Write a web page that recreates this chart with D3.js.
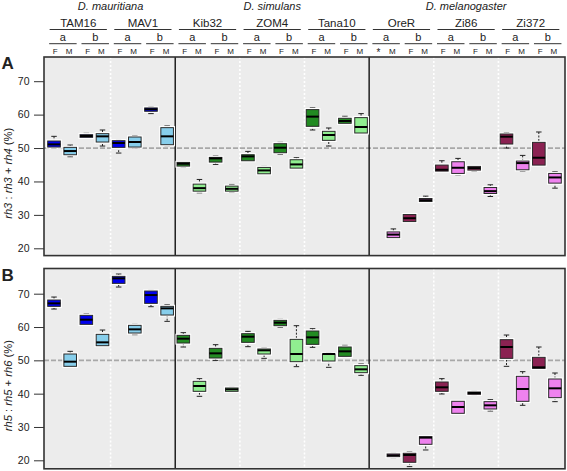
<!DOCTYPE html>
<html>
<head>
<meta charset="utf-8">
<script src="https://cdn.jsdelivr.net/npm/d3@7"></script>
<style>
  body { margin: 0; background: #fff; }
  text { font-family: "Liberation Sans", Arial, sans-serif; fill: #222; }
</style>
</head>
<body>
<script>
// groups
const species = ["D. mauritiana", "D. simulans", "D. melanogaster"];
const speciesStrains = [2, 3, 3];
const strains = ["TAM16", "MAV1", "Kib32", "ZOM4", "Tana10", "OreR", "Zi86", "Zi372"];
const lines = ["a", "b"];
const sexLabels = ["F", "M", "F", "M", "F", "M", "F", "M", "F", "M", "F", "M", "F", "M", "F", "M",
                   "F", "M", "F", "M", "*", "M", "F", "M", "F", "M", "F", "M", "F", "M", "F", "M"];
const colF = ["#0000ee", "#228b22", "#8b2252"];
const colM = ["#87ceeb", "#90ee90", "#ee82ee"];

// panel A: rh3 : rh3 + rh4 (%)  -> [low, q1, median, q3, high]
const statsA = [
  [50.0, 50.3, 51.1, 52.1, 53.5], [47.4, 48.0, 49.1, 50.2, 50.9],
  [53.2, 53.2, 53.6, 54.0, 54.4], [50.6, 51.8, 53.5, 54.3, 55.4],
  [48.5, 50.2, 51.5, 52.2, 52.5], [50.0, 50.3, 51.8, 53.3, 53.7],
  [60.3, 61.0, 61.6, 62.0, 62.3], [50.7, 51.0, 53.5, 56.1, 56.6],
  [44.3, 44.6, 45.3, 45.7, 45.9], [36.6, 37.1, 38.0, 39.2, 40.6],
  [45.1, 45.8, 46.9, 47.2, 47.6], [36.7, 37.1, 37.8, 38.6, 39.1],
  [46.2, 46.2, 47.5, 48.0, 49.0], [42.1, 42.3, 43.3, 44.2, 44.5],
  [48.1, 48.6, 50.1, 51.3, 51.7], [44.0, 44.0, 45.1, 46.5, 47.1],
  [55.4, 56.5, 59.4, 61.5, 62.0], [50.6, 52.3, 53.9, 55.0, 56.0],
  [57.4, 57.4, 58.1, 58.9, 59.5], [54.5, 54.5, 56.3, 59.1, 60.3],
  null,                           [23.1, 23.2, 24.1, 24.9, 25.8],
  [27.8, 28.0, 29.0, 30.1, 30.4], [33.7, 34.0, 34.4, 34.9, 35.6],
  [43.0, 43.1, 43.5, 44.9, 46.2], [42.0, 42.4, 44.1, 45.9, 46.9],
  [43.0, 43.4, 44.0, 44.5, 44.7], [35.5, 36.4, 37.1, 38.2, 39.0],
  [50.0, 51.2, 53.4, 54.2, 54.6], [43.1, 43.5, 45.5, 46.1, 47.8],
  [44.9, 44.9, 47.1, 51.7, 54.8], [38.0, 39.5, 41.2, 42.4, 42.9]
];

// panel B: rh5 : rh5 + rh6 (%)
const statsB = [
  [65.4, 66.2, 67.1, 68.1, 69.0], [48.2, 48.2, 49.6, 51.9, 52.7],
  [60.8, 60.8, 62.2, 63.5, 63.9], [54.2, 54.4, 55.4, 57.8, 59.1],
  [72.0, 73.1, 74.6, 75.2, 75.9], [57.7, 58.2, 59.3, 60.5, 60.8],
  [66.1, 67.1, 69.6, 70.8, 71.0], [61.7, 63.6, 65.6, 66.2, 66.7],
  [54.0, 55.2, 56.5, 57.5, 58.3], [39.2, 40.7, 42.3, 43.7, 44.5],
  [50.0, 50.7, 52.1, 53.6, 54.7], [40.6, 40.7, 41.3, 41.7, 41.9],
  [54.1, 55.4, 57.1, 58.0, 58.7], [50.6, 51.9, 53.0, 53.4, 53.7],
  [59.9, 60.4, 61.3, 62.0, 62.3], [48.1, 49.6, 51.9, 56.3, 60.4],
  [53.9, 54.8, 56.9, 58.8, 59.5], [47.9, 49.8, 51.9, 51.9, 52.1],
  [51.0, 51.2, 52.7, 54.0, 54.5], [45.5, 46.3, 47.3, 48.4, 48.9],
  null,                           [20.8, 21.1, 21.5, 21.9, 22.1],
  [18.1, 19.4, 21.6, 22.1, 22.5], [23.1, 24.8, 26.8, 27.1, 27.3],
  [39.9, 40.7, 41.9, 43.5, 44.5], [34.0, 34.1, 36.0, 37.7, 37.8],
  [39.5, 39.8, 40.2, 40.5, 40.7], [34.8, 35.4, 36.5, 37.6, 38.2],
  [48.2, 50.6, 54.0, 56.2, 57.6], [36.5, 37.7, 41.4, 45.2, 46.6],
  [47.6, 47.6, 47.9, 50.9, 54.0], [37.6, 38.8, 41.6, 44.4, 46.2]
];
const yTicks = [20, 30, 40, 50, 60, 70];

const width = 567, height = 471;
const left = 44, right = 565;

const svg = d3.select("body").append("svg")
    .attr("width", width)
    .attr("height", height);

const x = d3.scaleLinear()
    .domain([0.38, 32.62])
    .range([left, right]);

// species index for each box position
const boxSpecies = [];
speciesStrains.forEach((n, s) => { for (let i = 0; i < n * 4; i++) boxSpecies.push(s); });

// ---- header ----
let pos = 1;
species.forEach((sp, s) => {
    const first = pos, last = pos + speciesStrains[s] * 4 - 1;
    svg.append("text")
        .attr("x", x((first + last) / 2))
        .attr("y", 9.5)
        .attr("text-anchor", "middle")
        .attr("font-size", "11px")
        .attr("font-style", "italic")
        .text(sp);
    pos = last + 1;
});

strains.forEach((st, k) => {
    const p = k * 4 + 1;
    svg.append("line")
        .attr("x1", x(p - 0.27)).attr("x2", x(p + 3.27))
        .attr("y1", 29.5).attr("y2", 29.5)
        .attr("stroke", "#333").attr("stroke-width", 1);
    svg.append("text")
        .attr("x", x(p + 1.5))
        .attr("y", 26.7)
        .attr("text-anchor", "middle")
        .attr("font-size", "11.5px")
        .text(st);
    lines.forEach((ln, j) => {
        const q = p + j * 2;
        svg.append("line")
            .attr("x1", x(q - 0.3)).attr("x2", x(q + 1.4))
            .attr("y1", 43.7).attr("y2", 43.7)
            .attr("stroke", "#333").attr("stroke-width", 1);
        svg.append("text")
            .attr("x", x(q + 0.55))
            .attr("y", 41.3)
            .attr("text-anchor", "middle")
            .attr("font-size", "11px")
            .text(ln);
    });
});

svg.selectAll(".sex")
    .data(sexLabels)
    .enter().append("text")
    .attr("class", "sex")
    .attr("x", (d, i) => x(i + 1 + (i % 2 === 0 ? 0.08 : -0.07)))
    .attr("y", d => d === "*" ? 56 : 54)
    .attr("text-anchor", "middle")
    .attr("font-size", d => d === "*" ? "10px" : "8px")
    .text(d => d);

// ---- panels ----
function drawPanel(stats, top, bottom, y20, y70, tag, num, den) {
    const y = d3.scaleLinear().domain([20, 70]).range([y20, y70]);
    const g = svg.append("g");

    g.append("rect")
        .attr("x", left).attr("y", top)
        .attr("width", right - left).attr("height", bottom - top)
        .attr("fill", "#ececec");

    // strain separators (dotted white)
    [4.5, 12.5, 16.5, 24.5, 28.5].forEach(v => {
        g.append("line")
            .attr("x1", x(v)).attr("x2", x(v))
            .attr("y1", top).attr("y2", bottom)
            .attr("stroke", "#fff").attr("stroke-width", 1.6)
            .attr("stroke-dasharray", "2,2");
    });

    // 50% reference
    g.append("line")
        .attr("x1", left).attr("x2", right)
        .attr("y1", y(50)).attr("y2", y(50))
        .attr("stroke", "#a8a8a8").attr("stroke-width", 1.8)
        .attr("stroke-dasharray", "5,2");

    // species separators
    [8.5, 20.5].forEach(v => {
        g.append("line")
            .attr("x1", x(v)).attr("x2", x(v))
            .attr("y1", top).attr("y2", bottom)
            .attr("stroke", "#111").attr("stroke-width", 1.4);
    });

    const bw = x(0.78) - x(0), cw = x(0.34) - x(0);
    const boxes = g.selectAll(".box")
        .data(stats.map((d, i) => ({ s: d, i: i }) ).filter(d => d.s))
        .enter().append("g");

    boxes.append("line")
        .attr("x1", d => x(d.i + 1)).attr("x2", d => x(d.i + 1))
        .attr("y1", d => y(d.s[4])).attr("y2", d => y(d.s[0]))
        .attr("stroke", "#222").attr("stroke-width", 1)
        .attr("stroke-dasharray", "2,1.5");
    [0, 4].forEach(k => {
        boxes.append("line")
            .attr("x1", d => x(d.i + 1) - cw / 2).attr("x2", d => x(d.i + 1) + cw / 2)
            .attr("y1", d => y(d.s[k])).attr("y2", d => y(d.s[k]))
            .attr("stroke", "#222").attr("stroke-width", 1);
    });
    boxes.append("rect")
        .attr("x", d => x(d.i + 1) - bw / 2)
        .attr("y", d => y(d.s[3]))
        .attr("width", bw)
        .attr("height", d => Math.max(y(d.s[1]) - y(d.s[3]), 0.5))
        .attr("fill", "none")
        .attr("stroke", "#fff").attr("stroke-width", 3.2);
    boxes.append("rect")
        .attr("x", d => x(d.i + 1) - bw / 2)
        .attr("y", d => y(d.s[3]))
        .attr("width", bw)
        .attr("height", d => Math.max(y(d.s[1]) - y(d.s[3]), 0.5))
        .attr("fill", d => d.i % 2 === 0 ? colF[boxSpecies[d.i]] : colM[boxSpecies[d.i]])
        .attr("stroke", "#2a2a2a").attr("stroke-width", 1);
    boxes.append("line")
        .attr("x1", d => x(d.i + 1) - bw / 2).attr("x2", d => x(d.i + 1) + bw / 2)
        .attr("y1", d => y(d.s[2])).attr("y2", d => y(d.s[2]))
        .attr("stroke", "#000").attr("stroke-width", 2);

    // frame
    g.append("rect")
        .attr("x", left).attr("y", top)
        .attr("width", right - left).attr("height", bottom - top)
        .attr("fill", "none")
        .attr("stroke", "#333").attr("stroke-width", 1.6);

    // y axis
    const axis = g.append("g")
        .attr("transform", `translate(${left}, 0)`)
        .call(d3.axisLeft(y).tickValues(yTicks).tickSize(10).tickPadding(4.5));
    axis.select(".domain").remove();
    axis.selectAll("line").attr("stroke", "#333");
    axis.selectAll("text")
        .attr("font-size", "10.5px")
        .attr("fill", "#222")
        .attr("font-family", "Liberation Sans, Arial, sans-serif");

    g.append("text")
        .attr("x", 1.5).attr("y", top + 12)
        .attr("font-size", "17px")
        .attr("font-weight", "bold")
        .attr("fill", "#000")
        .text(tag);

    const t = g.append("text")
        .attr("transform", `translate(11.5, ${(top + bottom) / 2 + 17}) rotate(-90)`)
        .attr("text-anchor", "middle")
        .attr("font-size", "11.2px");
    t.append("tspan").attr("font-style", "italic").text(num);
    t.append("tspan").text(" : ");
    t.append("tspan").attr("font-style", "italic").text(num);
    t.append("tspan").text(" + ");
    t.append("tspan").attr("font-style", "italic").text(den);
    t.append("tspan").text(" (%)");
}

drawPanel(statsA, 57, 255.6, 248.3, 81.2, "A", "rh3", "rh4");
drawPanel(statsB, 268.5, 468.8, 460.3, 293.7, "B", "rh5", "rh6");
</script>
</body>
</html>
